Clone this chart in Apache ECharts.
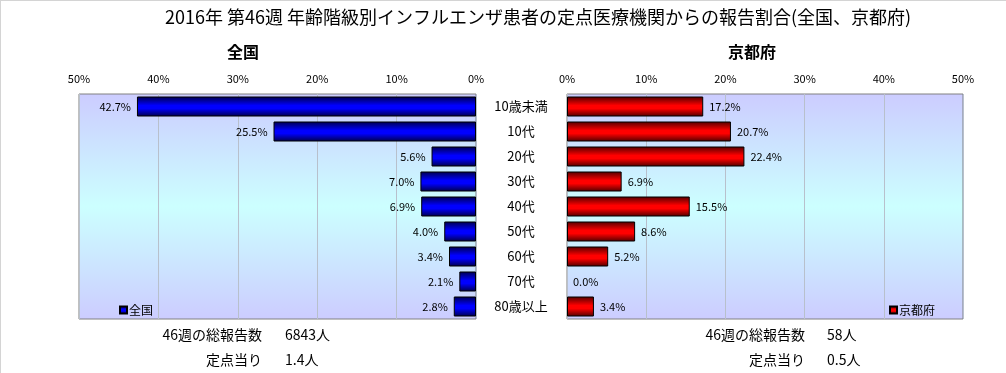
<!DOCTYPE html>
<html><head><meta charset="utf-8">
<script src="https://cdn.jsdelivr.net/npm/echarts@6/dist/echarts.min.js"></script>
<style>html,body{margin:0;padding:0;background:#fff}#c{width:1006px;height:373px}</style>
</head><body><div id="c"></div>
<script>
const categories = ['10歳未満','10代','20代','30代','40代','50代','60代','70代','80歳以上'];
const nationalValues = [42.7,25.5,5.6,7.0,6.9,4.0,3.4,2.1,2.8];
const kyotoValues = [17.2,20.7,22.4,6.9,15.5,8.6,5.2,0.0,3.4];
const titleText = '2016年 第46週 年齢階級別インフルエンザ患者の定点医療機関からの報告割合(全国、京都府)';
const nationalName = '全国';
const kyotoName = '京都府';
const nationalTotal = '6843人';
const nationalPerSite = '1.4人';
const kyotoTotal = '58人';
const kyotoPerSite = '0.5人';
const totalLabel = '46週の総報告数';
const perSiteLabel = '定点当り';

const FONT = '"Noto Sans CJK JP", sans-serif';
const G = echarts.graphic;
const mkBg = () => new G.LinearGradient(0,0,0,1,[
  {offset:0,color:'#ccccff'},{offset:0.5,color:'#ccffff'},{offset:1,color:'#ccccff'}]);
const blueGrad = new G.LinearGradient(0,0,0,1,[
  {offset:0,color:'#00004a'},{offset:0.45,color:'#0000ff'},{offset:0.6,color:'#0000ff'},{offset:1,color:'#00004a'}]);
const redGrad = new G.LinearGradient(0,0,0,1,[
  {offset:0,color:'#500000'},{offset:0.45,color:'#ff0000'},{offset:0.6,color:'#ff0000'},{offset:1,color:'#500000'}]);

// zero-valued bars have no visible outline in the reference
const toData = arr => arr.map(v => v === 0 ? {value: v, itemStyle: {borderWidth: 0}} : v);

const chart = echarts.init(document.getElementById('c'), null, {renderer:'canvas'});
const axisLabelStyle = {fontFamily: FONT, fontSize: 11, color: '#000', formatter: '{value}%', margin: 10};
function tx(x,y,text,opts){ return {type:'text', x:x, y:y, style:Object.assign({text:text, fontFamily:FONT, fontSize:14, fill:'#000'}, opts||{})}; }
chart.setOption({
  animation: false,
  textStyle: {fontFamily: FONT},
  grid: [
    {left: 79, top: 94, width: 397, height: 225, show: true, backgroundColor: mkBg(), borderColor: '#808080', borderWidth: 1},
    {left: 567, top: 94, width: 396, height: 225, show: true, backgroundColor: mkBg(), borderColor: '#808080', borderWidth: 1}
  ],
  xAxis: [
    {type:'value', gridIndex:0, min:0, max:50, interval:10, inverse:true, position:'top',
     axisLine:{show:false}, axisTick:{show:false}, axisLabel: axisLabelStyle,
     splitLine:{show:true, lineStyle:{color:'#b8c0cc', width:1}}},
    {type:'value', gridIndex:1, min:0, max:50, interval:10, position:'top',
     axisLine:{show:false}, axisTick:{show:false}, axisLabel: axisLabelStyle,
     splitLine:{show:true, lineStyle:{color:'#b8c0cc', width:1}}}
  ],
  yAxis: [
    {type:'category', gridIndex:0, data: categories, inverse:true, position:'right',
     axisLine:{show:false}, axisTick:{show:false}, axisLabel:{show:false}},
    {type:'category', gridIndex:1, data: categories, inverse:true, position:'left',
     axisLine:{show:false}, axisTick:{show:false},
     axisLabel:{show:true, fontFamily:FONT, fontSize:13, color:'#000', align:'center', margin:46}}
  ],
  legend: [
    {data:[nationalName], left:114, top:299, icon:'rect', itemWidth:7, itemHeight:7, itemGap:2,
     textStyle:{fontFamily:FONT, fontSize:12, color:'#000', padding:[0,0,0,-3]}},
    {data:[kyotoName], left:884, top:299, icon:'rect', itemWidth:7, itemHeight:7, itemGap:2,
     textStyle:{fontFamily:FONT, fontSize:12, color:'#000', padding:[0,0,0,-3]}}
  ],
  series: [
    {name: nationalName, type:'bar', xAxisIndex:0, yAxisIndex:0, data: toData(nationalValues), barWidth:20,
     itemStyle:{color: blueGrad, borderColor:'#000', borderWidth:1},
     label:{show:true, position:'left', distance:6, fontFamily:FONT, fontSize:11, color:'#000',
            formatter: p => p.value.toFixed(1) + '%'}},
    {name: kyotoName, type:'bar', xAxisIndex:1, yAxisIndex:1, data: toData(kyotoValues), barWidth:20,
     itemStyle:{color: redGrad, borderColor:'#000', borderWidth:1},
     label:{show:true, position:'right', distance:6, fontFamily:FONT, fontSize:11, color:'#000',
            formatter: p => p.value.toFixed(1) + '%'}}
  ],
  graphic: [
    {type:'line', shape:{x1:0,y1:0.5,x2:1006,y2:0.5}, style:{stroke:'#d4d4d4', lineWidth:1}},
    {type:'line', shape:{x1:0.5,y1:0,x2:0.5,y2:373}, style:{stroke:'#d4d4d4', lineWidth:1}},
    tx(538, 17, titleText, {fontSize:18, align:'center', verticalAlign:'middle'}),
    tx(243, 52, nationalName, {fontSize:16, fontWeight:'bold', align:'center', verticalAlign:'middle'}),
    tx(752, 52, kyotoName, {fontSize:16, fontWeight:'bold', align:'center', verticalAlign:'middle'}),
    tx(262, 335, totalLabel, {align:'right', verticalAlign:'middle'}),
    tx(285, 335, nationalTotal, {align:'left', verticalAlign:'middle'}),
    tx(262, 360, perSiteLabel, {align:'right', verticalAlign:'middle'}),
    tx(285, 360, nationalPerSite, {align:'left', verticalAlign:'middle'}),
    tx(805, 335, totalLabel, {align:'right', verticalAlign:'middle'}),
    tx(827, 335, kyotoTotal, {align:'left', verticalAlign:'middle'}),
    tx(805, 360, perSiteLabel, {align:'right', verticalAlign:'middle'}),
    tx(827, 360, kyotoPerSite, {align:'left', verticalAlign:'middle'})
  ]
});
</script></body></html>
